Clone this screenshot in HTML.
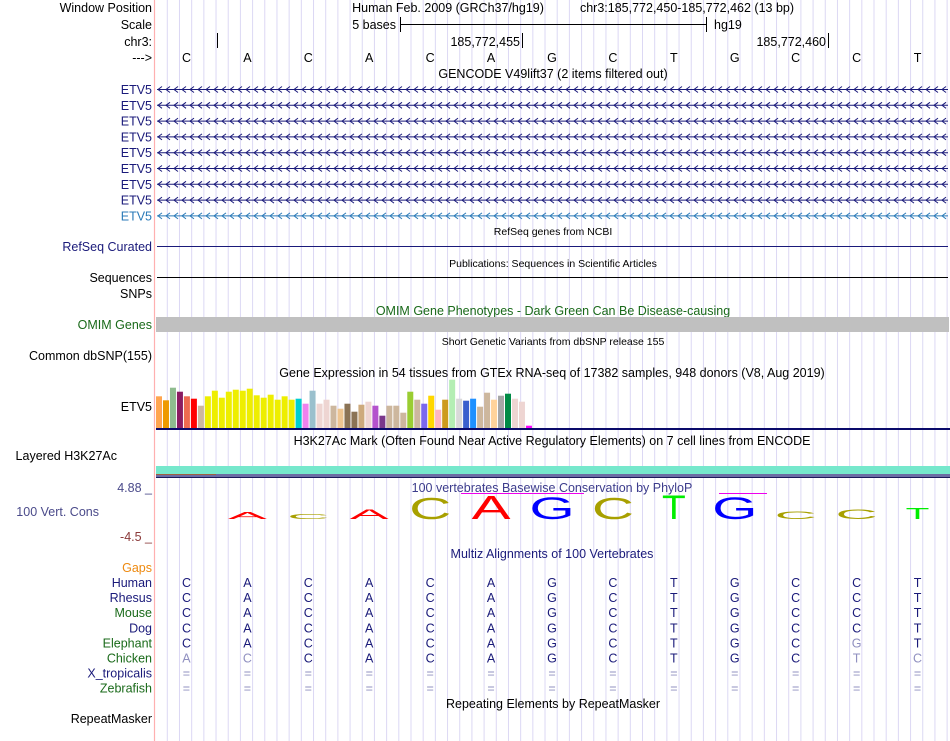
<!DOCTYPE html>
<html><head><meta charset="utf-8"><style>
html,body{margin:0;padding:0;background:#fff;}
svg{display:block;font-family:"Liberation Sans",Arial,sans-serif;}
</style></head><body>
<svg id="c" width="950" height="741" viewBox="0 0 950 741" xmlns="http://www.w3.org/2000/svg">
<g id="grid"></g>
<line x1="154.5" y1="0" x2="154.5" y2="741" stroke="#ffb0b0" stroke-width="1.2"/>
<g font-size="12.5" fill="#000" text-anchor="end">
<text x="152" y="12">Window Position</text>
<text x="152" y="29">Scale</text>
<text x="152" y="46">chr3:</text>
<text x="152" y="62">---&gt;</text>
<text x="152" y="251" fill="#1a1a7a">RefSeq Curated</text>
<text x="152" y="282">Sequences</text>
<text x="152" y="298">SNPs</text>
<text x="152" y="329" fill="#1a6a1a">OMIM Genes</text>
<text x="152" y="360">Common dbSNP(155)</text>
<text x="152" y="411">ETV5</text>
<text x="117" y="460">Layered H3K27Ac</text>
<text x="152" y="492" fill="#4a4a8a">4.88 _</text>
<text x="99" y="516" fill="#4a4a8a">100 Vert. Cons</text>
<text x="152" y="541" fill="#8b3a3a">-4.5 _</text>
<text x="152" y="572" fill="#ee8a10">Gaps</text>
<text x="152" y="723">RepeatMasker</text>
</g>
<g id="etvlabels" font-size="12.5" text-anchor="end"></g>
<g id="species" font-size="12.5" text-anchor="end"></g>
<g font-size="12.5" text-anchor="middle">
<text x="448" y="12">Human Feb. 2009 (GRCh37/hg19)</text>
<text x="687" y="12">chr3:185,772,450-185,772,462 (13 bp)</text>
<text x="553" y="78">GENCODE V49lift37 (2 items filtered out)</text>
<text x="553" y="235" font-size="10.5">RefSeq genes from NCBI</text>
<text x="553" y="267" font-size="10.5">Publications: Sequences in Scientific Articles</text>
<text x="553" y="315" fill="#1a6a1a">OMIM Gene Phenotypes - Dark Green Can Be Disease-causing</text>
<text x="553" y="345" font-size="10.5">Short Genetic Variants from dbSNP release 155</text>
<text x="552" y="377">Gene Expression in 54 tissues from GTEx RNA-seq of 17382 samples, 948 donors (V8, Aug 2019)</text>
<text x="552" y="445">H3K27Ac Mark (Often Found Near Active Regulatory Elements) on 7 cell lines from ENCODE</text>
<text x="552" y="492" fill="#3c3c8c">100 vertebrates Basewise Conservation by PhyloP</text>
<text x="552" y="558" fill="#1a1a7a">Multiz Alignments of 100 Vertebrates</text>
<text x="553" y="708">Repeating Elements by RepeatMasker</text>
</g>
<g stroke="#000" stroke-width="1">
<line x1="400.5" y1="24.5" x2="706.5" y2="24.5"/><line x1="400.5" y1="17" x2="400.5" y2="32"/><line x1="706.5" y1="17" x2="706.5" y2="32"/>
<line x1="217.5" y1="33" x2="217.5" y2="48"/><line x1="522.5" y1="33" x2="522.5" y2="48"/><line x1="828.5" y1="33" x2="828.5" y2="48"/>
</g>
<g font-size="12.5">
<text x="396" y="29" text-anchor="end">5 bases</text><text x="714" y="29">hg19</text>
<text x="520" y="46" text-anchor="end">185,772,455</text><text x="826" y="46" text-anchor="end">185,772,460</text>
</g>
<g id="bases" font-size="12.5" text-anchor="middle"></g>
<g id="genes"></g>
<line x1="157" y1="246.5" x2="948" y2="246.5" stroke="#1a1a7a"/>
<line x1="157" y1="277.5" x2="948" y2="277.5" stroke="#000"/>
<rect x="156" y="317" width="793" height="15" fill="#c0c0c0"/>
<g id="gtex"></g>
<rect x="156" y="428" width="794" height="2" fill="#0a0a6a"/>
<rect x="156" y="466" width="794" height="8" fill="#76e8cc"/>
<rect x="156" y="474" width="794" height="3" fill="#6c6ca4"/>
<rect x="156" y="474" width="60" height="1" fill="#a06040"/>
<rect x="156" y="477" width="794" height="1" fill="#1a1a5a"/>
<line x1="461" y1="493.5" x2="584" y2="493.5" stroke="#ee00ee"/>
<line x1="719" y1="493.5" x2="767" y2="493.5" stroke="#ee00ee"/>
<g id="logo"></g>
<g id="aln" font-size="12.5" text-anchor="middle"></g>
</svg>
<script>
const NS="http://www.w3.org/2000/svg";
const refBases=["C","A","C","A","C","A","G","C","T","G","C","C","T"];
const consHeights=[0,7,5,10,22,24,23,22,25,23,8,10,11];
const consColors={A:"#ff0000",C:"#a8a000",G:"#0000ff",T:"#00ee00"};
const speciesNames=["Human","Rhesus","Mouse","Dog","Elephant","Chicken","X_tropicalis","Zebrafish"];
const speciesColors=["#1a1a7a","#1a1a7a","#1a6a1a","#1a1a7a","#1a6a1a","#1a6a1a","#1a1a7a","#1a6a1a"];
const alnRows=["CACACAGCTGCCT","CACACAGCTGCCT","CACACAGCTGCCT","CACACAGCTGCCT","CACACAGCTGCGT","ACCACAGCTGCTC","=============","============="];
const alnFaint=[[],[],[],[],[11],[0,1,11,12],"all","all"];
const gtexValues=[31.7,27.7,40.3,36.3,31.7,29.3,22.3,31.7,37.3,30.3,36.3,38.3,37.3,39.3,32.7,30.3,33.3,28.3,31.7,28.3,29.3,24.3,37.3,24.3,28.3,22.3,19.3,24.3,16.3,23.3,26.3,22.3,12.3,22.3,22.3,15.3,36.3,28.3,24.3,32.3,18.3,28.3,48.3,29.3,27.3,29.3,21.3,35.3,28.3,32.3,34.3,29.3,26.3,2.3];
const gtexColors=["#FFA54F","#EE9A00","#8FBC8F","#8B1C62","#EE6A50","#FF0000","#CDB79E","#EEEE00","#EEEE00","#EEEE00","#EEEE00","#EEEE00","#EEEE00","#EEEE00","#EEEE00","#EEEE00","#EEEE00","#EEEE00","#EEEE00","#EEEE00","#00CED1","#EE82EE","#9AC0CD","#EED5D2","#EED5D2","#CDB79E","#EEC591","#8B7355","#8B7355","#CDAA7D","#EED5D2","#B452CD","#7A378B","#CDB79E","#CDB79E","#CDB79E","#9ACD32","#CDB79E","#7B68EE","#FFD700","#FFB6C1","#CD9B1D","#B4EEB4","#D9D9D9","#3A5FCD","#1E90FF","#CDB79E","#CDB79E","#FFD39B","#A6A6A6","#008B45","#EED5D2","#EED5D2","#FF00FF"];
const etvColors=["#1a1a7a","#1a1a7a","#1a1a7a","#1a1a7a","#1a1a7a","#1a1a7a","#1a1a7a","#1a1a7a","#2a7ab8"];

const X0=156, BW=792/13;
const baseX=i=>X0+BW*(i+0.5);
const gtexY=v=>428-v;
function el(tag,attrs,parent,txt){const e=document.createElementNS(NS,tag);for(const k in attrs)e.setAttribute(k,attrs[k]);if(txt!==undefined)e.textContent=txt;parent.appendChild(e);return e;}

const grid=document.getElementById('grid');
for(let x=167.3;x<950;x+=BW/5){const l=el('line',{x1:x,y1:0,x2:x,y2:741,stroke:'#dcd8f4','stroke-width':1},grid);

}

const bases=document.getElementById('bases');
refBases.forEach((b,i)=>{const t=el('text',{x:baseX(i),y:62},bases,b);

});

const genes=document.getElementById('genes'), etl=document.getElementById('etvlabels');
etvColors.forEach((c,r)=>{const y=89+r*15.8;
const lab=el('text',{x:152,y:y+5,fill:c},etl,'ETV5');


const g=el('g',{stroke:c,fill:'none','stroke-width':1},genes);


el('line',{x1:157,y1:y+0.5,x2:948,y2:y+0.5},g);
let d='';for(let x=158;x<946;x+=8){d+=`M${x+4},${y-2.5}L${x},${y+0.5}L${x+4},${y+3.5}`;}
el('path',{d:d},g);});

const gtex=document.getElementById('gtex');
gtexValues.forEach((v,i)=>{const r=el('rect',{x:156+i*6.98,y:gtexY(v),width:6,height:v,fill:gtexColors[i]},gtex);

});

const logo=document.getElementById('logo');
consHeights.forEach((h,i)=>{if(h<=0)return;const b=refBases[i];const F=32;const sy=h/(0.72*F);
const wTarget=(b==='T')?28:42;const sx=wTarget/(0.72*F);
const t=el('text',{transform:`translate(${baseX(i)},519) scale(${sx},${sy})`,'text-anchor':'middle','font-size':F,fill:consColors[b]},logo,b);

});

const sp=document.getElementById('species'), aln=document.getElementById('aln');
speciesNames.forEach((n,r)=>{const y=587+r*15.1;
const t=el('text',{x:152,y:y,fill:speciesColors[r]},sp,n);


alnRows[r].split('').forEach((b,i)=>{const faint=alnFaint[r]==='all'||alnFaint[r].includes(i);
const a=el('text',{x:baseX(i),y:y,fill:faint?'#9090c0':'#1a1a7a'},aln,b);

});});
</script>
</body></html>
